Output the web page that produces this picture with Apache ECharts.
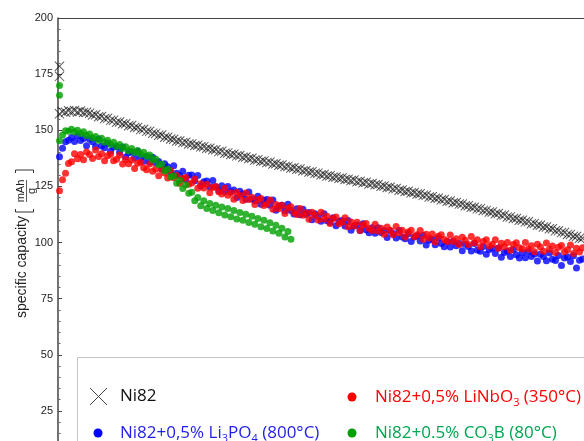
<!DOCTYPE html>
<html>
<head>
<meta charset="utf-8">
<script src="https://cdn.jsdelivr.net/npm/echarts@6/dist/echarts.min.js"></script>
<style>
  html, body { margin: 0; padding: 0; background: #fff; overflow: hidden; }
  /* the plot continues below the visible window */
  #chart { width: 584px; height: 480px; }
</style>
</head>
<body>
<div id="chart"></div>
<script>
// Cycle numbering of the measured points (every second cycle)
const cycleStart = 1;
const cycleStep = 2;
const cycleMin = 0;
const cycleMax = 350;

// Y-axis ticks, mAh/g
const capacityTicks = [0, 25, 50, 75, 100, 125, 150, 175, 200];

// Ni82 (uncoated)
const ni82FirstCycle = [178.5, 174.0];
const ni82 = [
  157.3, 158.2, 158.0, 158.7, 158.3, 158.8, 158.1, 158.6, 157.9, 158.0,
  157.6, 156.8, 156.9, 156.0, 156.1, 155.2, 155.3, 154.4, 154.5, 153.6,
  153.7, 152.9, 152.9, 152.0, 152.1, 151.2, 151.2, 150.3, 150.4, 149.5,
  149.5, 148.7, 148.6, 147.8, 147.9, 146.9, 146.9, 146.1, 146.0, 145.2,
  145.2, 144.5, 144.6, 143.9, 143.9, 143.2, 143.3, 142.6, 142.7, 142.0,
  142.0, 141.3, 141.3, 140.5, 140.6, 139.8, 139.9, 139.2, 139.3, 138.6,
  138.7, 138.0, 138.1, 137.4, 137.5, 136.8, 136.9, 136.2, 136.3, 135.6,
  135.7, 135.0, 135.1, 134.4, 134.5, 133.8, 133.9, 133.2, 133.3, 132.6,
  132.7, 132.0, 132.1, 131.4, 131.5, 130.8, 130.9, 130.2, 130.3, 129.6,
  129.7, 129.1, 129.2, 128.6, 128.7, 128.1, 128.2, 127.6, 127.8, 127.1,
  127.3, 126.6, 126.8, 126.1, 126.3, 125.7, 125.8, 125.1, 125.2, 124.5,
  124.6, 123.9, 124.0, 123.3, 123.4, 122.7, 122.8, 122.2, 122.3, 121.6,
  121.7, 121.0, 121.0, 120.3, 120.4, 119.7, 119.7, 119.0, 119.1, 118.4,
  118.5, 117.7, 117.8, 117.1, 117.1, 116.4, 116.4, 115.7, 115.7, 115.0,
  115.0, 114.3, 114.3, 113.6, 113.6, 112.8, 112.9, 112.1, 112.2, 111.4,
  111.4, 110.7, 110.7, 109.9, 109.9, 109.2, 109.2, 108.4, 108.5, 107.7,
  107.7, 106.9, 106.9, 106.1, 106.1, 105.2, 105.2, 104.4, 104.4, 103.6,
  103.6, 102.8, 102.7, 101.9, 101.9
];

// Ni82 + 0,5% Li3PO4 (800 °C)
const li3po4 = [
  138.2, 142.0, 144.9, 145.6, 146.8, 145.0, 147.6, 145.4, 146.3, 143.1,
  146.0, 144.9, 142.8, 146.1, 143.0, 142.2, 144.2, 140.6, 142.5, 142.7,
  140.2, 142.5, 138.1, 140.0, 140.3, 137.7, 140.6, 137.9, 136.2, 138.4,
  135.8, 138.0, 135.5, 136.1, 132.6, 135.1, 133.7, 131.2, 134.2, 130.8,
  129.8, 131.7, 128.1, 129.9, 130.1, 127.5, 129.8, 125.3, 127.1, 127.4,
  124.7, 127.6, 124.8, 123.1, 125.3, 122.6, 125.0, 122.6, 123.4, 120.1,
  122.8, 121.6, 119.3, 122.5, 119.4, 118.6, 120.6, 117.0, 118.8, 119.1,
  116.6, 118.9, 114.4, 116.3, 116.6, 114.1, 117.0, 114.3, 112.7, 115.0,
  112.4, 114.8, 112.6, 113.4, 110.1, 112.8, 111.7, 109.5, 112.8, 109.7,
  109.0, 111.0, 107.5, 109.5, 109.8, 107.4, 109.8, 105.5, 107.4, 107.8,
  105.3, 108.3, 105.7, 104.3, 106.6, 104.1, 106.6, 104.5, 105.4, 102.2,
  105.1, 104.0, 102.0, 105.3, 102.4, 101.7, 103.9, 100.5, 102.5, 103.0,
  100.7, 103.2, 98.9, 101.0, 101.4, 99.0, 102.0, 99.5, 98.1, 100.4,
  98.0, 100.6, 98.5, 99.5, 96.3, 99.2, 98.2, 96.2, 99.6, 96.7,
  96.1, 98.2, 94.8, 96.9, 97.4, 95.1, 97.6, 93.4, 95.6, 96.1,
  93.8, 96.9, 94.5, 93.1, 95.6, 93.2, 95.9, 93.8, 94.9, 91.8,
  94.8, 93.8, 91.9, 95.3, 92.5, 92.0, 94.2, 89.8, 93.1, 93.7,
  91.5, 94.1, 88.6, 92.1, 92.7
];

// Ni82 + 0,5% LiNbO3 (350 °C)
const linbo3 = [
  123.0, 128.0, 130.9, 135.2, 136.0, 139.5, 137.3, 139.2, 136.9, 140.3,
  139.2, 137.4, 141.2, 138.3, 139.5, 136.4, 138.6, 139.3, 136.4, 137.1,
  139.0, 135.0, 137.0, 135.1, 136.7, 133.0, 135.3, 135.8, 133.3, 132.4,
  135.0, 131.7, 132.7, 129.7, 132.6, 131.0, 128.7, 132.0, 128.8, 129.8,
  126.4, 128.5, 129.0, 125.9, 126.5, 128.3, 124.2, 126.2, 124.3, 126.0,
  122.2, 124.5, 125.0, 122.6, 121.6, 124.2, 121.0, 122.2, 119.3, 122.3,
  120.9, 118.7, 122.1, 119.1, 120.2, 116.9, 119.0, 119.6, 116.5, 117.1,
  118.9, 114.8, 116.9, 115.0, 116.6, 112.9, 115.3, 115.9, 113.4, 112.5,
  115.2, 112.1, 113.3, 110.4, 113.5, 112.1, 110.0, 113.5, 110.5, 111.7,
  108.5, 110.7, 111.4, 108.4, 109.1, 111.0, 107.0, 109.1, 107.3, 109.0,
  105.3, 107.8, 108.5, 106.2, 105.3, 108.1, 105.1, 106.4, 103.7, 106.9,
  105.5, 103.5, 107.1, 104.2, 105.5, 102.4, 104.7, 105.5, 102.6, 103.4,
  105.4, 101.5, 103.7, 102.0, 103.8, 100.2, 102.8, 103.5, 101.3, 100.5,
  103.3, 100.4, 101.7, 99.1, 102.3, 101.0, 99.1, 102.7, 99.9, 101.2,
  98.1, 100.5, 101.2, 98.4, 99.2, 101.2, 97.4, 99.7, 98.1, 100.0,
  96.5, 99.1, 99.9, 97.7, 97.1, 100.0, 97.1, 98.5, 95.9, 99.2,
  98.0, 96.1, 99.8, 97.0, 98.4, 95.5, 97.9, 98.7, 95.9, 96.8,
  98.9, 95.1, 97.4, 95.8, 97.7
];

// Ni82 + 0.5% CO3B (80 °C)
const co3bFirstCycle = [169.9, 165.6];
const co3b = [
  145.3, 147.9, 149.8, 149.6, 150.4, 149.2, 150.0, 148.6, 149.3, 147.7,
  148.3, 146.6, 147.2, 145.5, 146.4, 144.6, 145.6, 143.7, 144.6, 142.8,
  143.6, 141.9, 142.7, 140.8, 141.9, 140.1, 141.0, 139.3, 140.2, 138.4,
  139.0, 136.8, 137.2, 134.6, 134.9, 131.8, 132.6, 129.3, 129.6, 126.4,
  127.7, 124.1, 125.6, 121.9, 122.4, 118.6, 120.0, 116.4, 118.6, 115.2,
  117.4, 114.2, 116.6, 113.3, 115.8, 112.2, 115.2, 111.5, 114.2, 110.5,
  113.4, 109.9, 112.6, 108.9, 111.7, 108.1, 110.7, 107.0, 109.9, 106.2,
  108.8, 105.1, 107.7, 104.1, 106.3, 102.4, 104.9, 101.5
];

const seriesNames = [
  'Ni82',
  'Ni82+0,5% Li3PO4 (800°C)',
  'Ni82+0,5% LiNbO3 (350°C)',
  'Ni82+0.5% CO3B (80°C)'
];
const seriesColors = ['rgba(0,0,0,0.8)', '#0000ff', '#ff0000', '#00a000'];

function toPoints(values, firstCycleExtra) {
  const pts = [];
  (firstCycleExtra || []).forEach(v => pts.push([cycleStart, v]));
  values.forEach((v, i) => pts.push([cycleStart + i * cycleStep, v]));
  return pts;
}

const crossSymbol = 'path://M0,0.7 L0.7,0 L10,9.3 L9.3,10 Z M9.3,0 L10,0.7 L0.7,10 L0,9.3 Z';

const sansFont = '"Liberation Sans", Arial, sans-serif';
const legendFont = '"Open Sans", sans-serif';

function richLabel(parts) {
  return parts.map(p => '{' + p[1] + '|' + p[0] + '}').join('');
}
function richStyles(color) {
  return {
    a: { fontFamily: legendFont, fontSize: 17, fill: color, lineHeight: 22 },
    b: { fontFamily: legendFont, fontSize: 11, fill: color, lineHeight: 8, verticalAlign: 'bottom' }
  };
}

const chart = echarts.init(document.getElementById('chart'), null, { renderer: 'canvas' });

const option = {
  animation: false,
  backgroundColor: '#fff',
  grid: { left: 58, top: 18, width: 526, height: 449, containLabel: false },
  xAxis: {
    type: 'value',
    min: cycleMin,
    max: cycleMax,
    position: 'top',
    axisLine: { show: true, onZero: false, lineStyle: { color: '#444', width: 1 } },
    axisTick: { show: false },
    axisLabel: { show: false },
    splitLine: { show: false }
  },
  yAxis: {
    type: 'value',
    min: capacityTicks[0],
    max: capacityTicks[capacityTicks.length - 1],
    interval: capacityTicks[1] - capacityTicks[0],
    axisLine: { show: true, onZero: false, lineStyle: { color: '#444', width: 1.5 } },
    axisTick: { show: true, inside: true, length: 4, lineStyle: { color: '#444', width: 1 } },
    minorTick: { show: true, splitNumber: 5, length: 2.5, lineStyle: { color: '#666', width: 1 } },
    axisLabel: { fontSize: 11, color: '#222', fontFamily: sansFont, margin: 5 },
    splitLine: { show: false }
  },
  series: [
    {
      name: seriesNames[0], type: 'scatter', symbol: crossSymbol, symbolSize: 10,
      itemStyle: { color: seriesColors[0] },
      data: toPoints(ni82, ni82FirstCycle)
    },
    {
      name: seriesNames[1], type: 'scatter', symbol: 'circle', symbolSize: 7,
      itemStyle: { color: seriesColors[1] },
      data: toPoints(li3po4)
    },
    {
      name: seriesNames[2], type: 'scatter', symbol: 'circle', symbolSize: 7,
      itemStyle: { color: seriesColors[2] },
      data: toPoints(linbo3)
    },
    {
      name: seriesNames[3], type: 'scatter', symbol: 'circle', symbolSize: 7,
      itemStyle: { color: seriesColors[3] },
      data: toPoints(co3b, co3bFirstCycle)
    }
  ],
  graphic: {
    elements: [
      // axis title: specific capacity [mAh / g]
      {
        type: 'group', x: 22, y: 318, rotation: Math.PI / 2, z: 50,
        children: [
          { type: 'text', x: 0, y: 0, style: { text: 'specific capacity', font: '14px ' + sansFont, fill: '#222', align: 'left', verticalAlign: 'middle' } },
          { type: 'polyline', shape: { points: [[109, -6.5], [106, -6.5], [106, 11.5], [109, 11.5]] }, style: { stroke: '#333', lineWidth: 1, fill: null } },
          { type: 'text', x: 127, y: -1.5, style: { text: 'mAh', font: '11px ' + sansFont, fill: '#222', align: 'center', verticalAlign: 'middle' } },
          { type: 'line', shape: { x1: 116, y1: 4.5, x2: 138, y2: 4.5 }, style: { stroke: '#333', lineWidth: 0.8 } },
          { type: 'text', x: 127, y: 10, style: { text: 'g', font: '11px ' + sansFont, fill: '#222', align: 'center', verticalAlign: 'middle' } },
          { type: 'polyline', shape: { points: [[145, -6.5], [148, -6.5], [148, 11.5], [145, 11.5]] }, style: { stroke: '#333', lineWidth: 1, fill: null } }
        ]
      },
      // legend panel
      {
        type: 'rect', z: 60,
        shape: { x: 77.5, y: 357.5, width: 530, height: 100 },
        style: { fill: '#fff', stroke: '#c4c4c4', lineWidth: 1 }
      },
      { type: 'line', z: 61, shape: { x1: 90, y1: 388, x2: 107, y2: 405 }, style: { stroke: '#444', lineWidth: 1 } },
      { type: 'line', z: 61, shape: { x1: 107, y1: 388, x2: 90, y2: 405 }, style: { stroke: '#444', lineWidth: 1 } },
      {
        type: 'text', z: 61, x: 120, y: 396,
        style: { text: richLabel([[seriesNames[0], 'a']]), rich: richStyles('#111'), verticalAlign: 'middle' }
      },
      { type: 'circle', z: 61, shape: { cx: 98, cy: 433, r: 4.5 }, style: { fill: '#0000ff' } },
      {
        type: 'text', z: 61, x: 120, y: 433,
        style: { text: richLabel([['Ni82+0,5% Li', 'a'], ['3', 'b'], ['PO', 'a'], ['4', 'b'], [' (800°C)', 'a']]), rich: richStyles('#1f1fe6'), verticalAlign: 'middle' }
      },
      { type: 'circle', z: 61, shape: { cx: 352, cy: 397, r: 4.5 }, style: { fill: '#ff0000' } },
      {
        type: 'text', z: 61, x: 375, y: 397,
        style: { text: richLabel([['Ni82+0,5% LiNbO', 'a'], ['3', 'b'], [' (350°C)', 'a']]), rich: richStyles('#ff0000'), verticalAlign: 'middle' }
      },
      { type: 'circle', z: 61, shape: { cx: 352, cy: 433, r: 4.5 }, style: { fill: '#00a000' } },
      {
        type: 'text', z: 61, x: 375, y: 433,
        style: { text: richLabel([['Ni82+0.5% CO', 'a'], ['3', 'b'], ['B (80°C)', 'a']]), rich: richStyles('#00a550'), verticalAlign: 'middle' }
      }
    ]
  }
};

chart.setOption(option);
</script>
</body>
</html>
